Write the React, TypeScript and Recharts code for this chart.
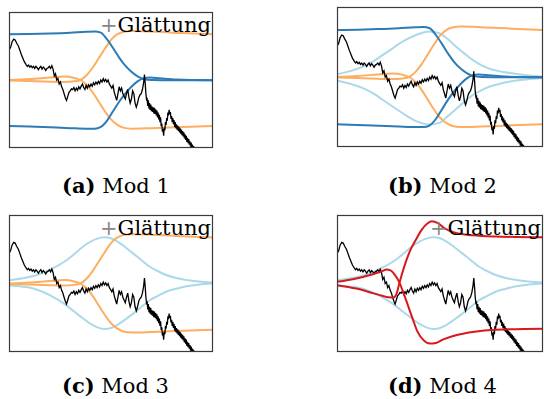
import { Line, LineChart, XAxis, YAxis } from 'recharts'

type Pt = [number, number]

// x runs 0..100 across each panel, y 0..1 bottom to top
const signal: Pt[] = [
  [0, 0.72], [0.8, 0.74], [1.5, 0.78], [2.3, 0.8], [3, 0.795], [3.8, 0.77], [4.6, 0.75], [5.3, 0.72],
  [6, 0.69], [6.8, 0.66], [7.5, 0.635], [8.3, 0.615], [9, 0.6], [9.6, 0.61], [10.2, 0.595], [10.8, 0.605],
  [11.4, 0.59], [12, 0.6], [12.6, 0.585], [13.2, 0.6], [13.8, 0.59], [14.4, 0.575], [15, 0.59], [15.6, 0.6],
  [16.2, 0.58], [16.8, 0.595], [17.4, 0.585], [18, 0.57], [18.6, 0.585], [19.2, 0.59], [19.8, 0.6], [20.4, 0.585],
  [21, 0.605], [21.6, 0.58], [22.2, 0.53], [22.8, 0.545], [23.4, 0.5], [24, 0.51], [24.6, 0.47], [25.2, 0.485],
  [25.8, 0.45], [26.4, 0.43], [27, 0.4], [27.6, 0.37], [28.2, 0.35], [28.8, 0.38], [29.4, 0.41], [30, 0.42],
  [30.6, 0.435], [31.2, 0.43], [31.8, 0.445], [32.4, 0.42], [33, 0.44], [33.6, 0.425], [34.2, 0.45], [34.8, 0.435],
  [35.4, 0.455], [36, 0.47], [36.6, 0.445], [37.2, 0.43], [37.8, 0.46], [38.4, 0.44], [39, 0.465], [39.6, 0.45],
  [40.2, 0.47], [40.8, 0.455], [41.4, 0.48], [42, 0.465], [42.6, 0.485], [43.2, 0.47], [43.8, 0.49], [44.4, 0.475],
  [45, 0.5], [45.6, 0.485], [46.2, 0.51], [46.8, 0.49], [47.4, 0.505], [48, 0.485], [48.6, 0.5], [49.2, 0.47],
  [49.8, 0.455], [50.4, 0.44], [51, 0.46], [51.6, 0.41], [52.2, 0.38], [52.8, 0.35], [53.4, 0.4], [54, 0.45],
  [54.6, 0.42], [55.2, 0.44], [55.8, 0.4], [56.4, 0.38], [57, 0.36], [57.6, 0.4], [58.2, 0.43], [58.8, 0.37],
  [59.4, 0.33], [60, 0.36], [60.6, 0.42], [61.2, 0.4], [61.8, 0.33], [62.4, 0.3], [63, 0.33], [63.6, 0.37],
  [64.2, 0.39], [64.8, 0.4], [65.4, 0.43], [66, 0.48], [66.4, 0.54], [66.8, 0.47],
  [67.1, 0.4], [67.4, 0.36], [67.7, 0.37], [68, 0.31], [68.3, 0.35], [68.6, 0.29], [68.9, 0.33], [69.2, 0.28],
  [69.5, 0.32], [69.8, 0.27], [70.1, 0.305], [70.4, 0.265], [70.7, 0.3], [71, 0.255], [71.3, 0.295], [71.6, 0.25],
  [71.9, 0.285], [72.2, 0.24], [72.5, 0.275], [72.8, 0.225], [73.1, 0.26], [73.4, 0.21], [73.7, 0.245], [74, 0.19],
  [74.3, 0.225], [74.6, 0.16], [74.9, 0.18], [75.2, 0.12], [75.5, 0.14], [75.8, 0.09], [76.1, 0.15], [76.4, 0.13],
  [76.7, 0.19], [77, 0.17], [77.3, 0.22], [77.6, 0.2], [77.9, 0.26], [78.2, 0.24], [78.5, 0.28], [78.8, 0.25],
  [79.1, 0.265], [79.4, 0.215], [79.7, 0.235], [80, 0.19], [80.3, 0.22], [80.6, 0.175], [80.9, 0.205], [81.2, 0.155],
  [81.5, 0.19], [81.8, 0.145], [82.1, 0.175], [82.4, 0.135], [82.7, 0.165], [83, 0.125], [83.3, 0.155], [83.6, 0.115],
  [83.9, 0.145], [84.2, 0.105], [84.5, 0.135], [84.8, 0.095], [85.1, 0.125], [85.4, 0.085], [85.7, 0.115], [86, 0.07],
  [86.3, 0.1], [86.6, 0.06], [86.9, 0.09], [87.2, 0.045], [87.5, 0.075], [87.8, 0.035], [88.1, 0.065], [88.4, 0.025],
  [88.7, 0.05], [89, 0.01], [89.3, 0.04], [89.6, 0.0], [89.9, 0.025], [90.2, -0.01], [90.5, 0.015], [90.8, -0.02],
  [91.1, 0.005], [91.4, -0.03], [91.7, -0.005], [92, -0.04], [92.6, -0.06],
]

const blueHigh: Pt[] = [
  [0, 0.836], [10, 0.838], [20, 0.842], [30, 0.848], [38, 0.855], [42, 0.857], [45, 0.848], [48, 0.8],
  [51, 0.735], [54, 0.665], [57, 0.605], [60, 0.56], [63, 0.527], [66, 0.508], [70, 0.5], [80, 0.498], [100, 0.498],
]
const blueLow: Pt[] = [
  [0, 0.162], [10, 0.158], [20, 0.152], [30, 0.146], [38, 0.142], [42, 0.142], [45, 0.155], [48, 0.2],
  [51, 0.27], [54, 0.34], [57, 0.4], [60, 0.45], [63, 0.49], [66, 0.512], [69, 0.518], [74, 0.512], [82, 0.503], [100, 0.498],
]
const orangeUp: Pt[] = [
  [0, 0.497], [10, 0.492], [20, 0.487], [27, 0.485], [32, 0.49], [35, 0.5], [38, 0.535], [41, 0.59],
  [44, 0.66], [47, 0.73], [50, 0.795], [53, 0.835], [56, 0.853], [60, 0.86], [70, 0.856], [85, 0.845], [100, 0.836],
]
const orangeDown: Pt[] = [
  [0, 0.5], [10, 0.507], [20, 0.518], [27, 0.525], [32, 0.515], [35, 0.5], [38, 0.465], [41, 0.41],
  [44, 0.34], [47, 0.27], [50, 0.21], [53, 0.172], [56, 0.15], [60, 0.142], [70, 0.146], [85, 0.155], [100, 0.162],
]
const skyHighB: Pt[] = [
  [0, 0.52], [6, 0.54], [12.6, 0.574], [18, 0.615], [22.3, 0.658], [27, 0.705], [32, 0.754], [38.4, 0.8],
  [44.8, 0.825], [49.7, 0.813], [53, 0.78], [57.7, 0.718], [62, 0.665], [65.8, 0.622], [70, 0.585], [73.9, 0.56],
  [80, 0.538], [85, 0.526], [92, 0.512], [100, 0.502],
]
const skyLowB: Pt[] = [
  [0, 0.474], [6, 0.454], [12.6, 0.42], [18, 0.379], [22.3, 0.336], [27, 0.289], [32, 0.24], [38.4, 0.185],
  [44.8, 0.16], [49.7, 0.172], [53, 0.21], [57.7, 0.27], [62, 0.325], [65.8, 0.37], [70, 0.405], [73.9, 0.43],
  [80, 0.455], [85, 0.47], [92, 0.482], [100, 0.492],
]
const skyHigh: Pt[] = [
  [0, 0.524], [6, 0.537], [12, 0.555], [20, 0.6], [28, 0.668], [32, 0.715], [36.4, 0.77], [40, 0.805],
  [43, 0.826], [47, 0.837], [50, 0.83], [53, 0.808], [57, 0.765], [61, 0.718], [65, 0.67], [69, 0.622],
  [73, 0.59], [77, 0.562], [82, 0.54], [87, 0.525], [93, 0.514], [100, 0.507],
]
const skyLow: Pt[] = [
  [0, 0.488], [6, 0.478], [12, 0.463], [20, 0.415], [28, 0.342], [32, 0.295], [36.4, 0.244], [40, 0.205],
  [43, 0.182], [47, 0.168], [50, 0.175], [53, 0.197], [57, 0.237], [61, 0.282], [65, 0.33], [69, 0.378],
  [73, 0.41], [77, 0.44], [82, 0.462], [87, 0.48], [93, 0.492], [100, 0.5],
]
const redUp: Pt[] = [
  [0, 0.488], [9.4, 0.463], [17.4, 0.43], [22, 0.41], [25, 0.4], [27.5, 0.398], [29, 0.43], [30.5, 0.515],
  [33, 0.64], [35.5, 0.74], [38.3, 0.82], [41, 0.89], [44, 0.94], [46, 0.955], [49, 0.94], [52, 0.905],
  [57.7, 0.868], [65.8, 0.852], [77, 0.843], [100, 0.837],
]
const redDown: Pt[] = [
  [0, 0.512], [9.4, 0.537], [17.4, 0.568], [22, 0.59], [24, 0.603], [26, 0.596], [28, 0.565], [30.2, 0.51],
  [33, 0.4], [36.7, 0.244], [39, 0.15], [42.4, 0.08], [45, 0.062], [48, 0.066], [51.3, 0.09], [57.7, 0.122],
  [65.8, 0.146], [77, 0.163], [100, 0.17],
]

const captions = ['Mod 1', 'Mod 2', 'Mod 3', 'Mod 4']
const letters = ['(a)', '(b)', '(c)', '(d)']

const BLUE = '#2c7bb6'
const ORANGE = '#fdae61'
const SKY = '#abd9e9'
const RED = '#d7191c'

type Series = { pts: Pt[]; color: string; w: number; linear?: boolean }

const rows = (pts: Pt[]) => pts.map(([u, v]) => ({ u, v }))
const sig: Series = { pts: signal, color: '#000', w: 1.3, linear: true }

const panels = [
  {
    left: 9, top: 12, width: 204, height: 136, label: true,
    series: [
      { pts: orangeUp, color: ORANGE, w: 2 }, { pts: orangeDown, color: ORANGE, w: 2 },
      { pts: blueHigh, color: BLUE, w: 2 }, { pts: blueLow, color: BLUE, w: 2 }, sig,
    ],
  },
  {
    left: 337, top: 7, width: 206, height: 140, label: false,
    series: [
      { pts: skyHighB, color: SKY, w: 2 }, { pts: skyLowB, color: SKY, w: 2 },
      { pts: orangeUp, color: ORANGE, w: 2 }, { pts: orangeDown, color: ORANGE, w: 2 },
      { pts: blueHigh, color: BLUE, w: 2 }, { pts: blueLow, color: BLUE, w: 2 }, sig,
    ],
  },
  {
    left: 9, top: 215, width: 204, height: 137, label: true,
    series: [
      { pts: skyHigh, color: SKY, w: 2 }, { pts: skyLow, color: SKY, w: 2 },
      { pts: orangeUp, color: ORANGE, w: 2 }, { pts: orangeDown, color: ORANGE, w: 2 }, sig,
    ],
  },
  {
    left: 337, top: 215, width: 206, height: 137, label: true,
    series: [
      { pts: skyHigh, color: SKY, w: 2 }, { pts: skyLow, color: SKY, w: 2 }, sig,
      { pts: redUp, color: RED, w: 2 }, { pts: redDown, color: RED, w: 2 },
    ],
  },
]

const FONT = '"DejaVu Serif", serif'

function Panel({ p }: { p: (typeof panels)[number] }) {
  return (
    <div style={{ position: 'absolute', left: p.left, top: p.top }}>
      <LineChart width={p.width} height={p.height} margin={{ top: 0, right: 0, bottom: 0, left: 0 }}>
        <XAxis type="number" dataKey="u" domain={[0, 100]} hide allowDataOverflow />
        <YAxis type="number" domain={[0, 1]} hide allowDataOverflow />
        {p.series.map((s, i) => (
          <Line
            key={i}
            data={rows(s.pts)}
            dataKey="v"
            type={s.linear ? 'linear' : 'monotone'}
            stroke={s.color}
            strokeWidth={s.w}
            dot={false}
            activeDot={false}
            isAnimationActive={false}
          />
        ))}
      </LineChart>
    </div>
  )
}

export default function App() {
  return (
    <div style={{ position: 'absolute', left: 0, top: 0, width: 544, height: 399, background: '#fff', overflow: 'hidden' }}>
      {panels.map((p, i) => (
        <Panel key={i} p={p} />
      ))}
      <svg width={544} height={399} style={{ position: 'absolute', left: 0, top: 0 }}>
        {panels.map((p, i) => (
          <g key={i}>
            <rect x={p.left + 0.5} y={p.top + 0.5} width={p.width - 1} height={p.height - 1} fill="none" stroke="#3a3a3a" strokeWidth={1.2} />
            {p.label && (
              <text x={p.left + p.width - 2} y={p.top + 19.5} textAnchor="end" fontFamily={FONT} fontSize={21} fill="#000">
                <tspan fill="#888">+</tspan>Glättung
              </text>
            )}
          </g>
        ))}
        {captions.map((c, i) => (
          <text key={c} x={i % 2 === 0 ? 62 : 388} y={i < 2 ? 193 : 393} fontFamily={FONT} fontSize={21} fill="#000">
            <tspan fontWeight="bold">{letters[i]}</tspan> {c}
          </text>
        ))}
      </svg>
    </div>
  )
}
